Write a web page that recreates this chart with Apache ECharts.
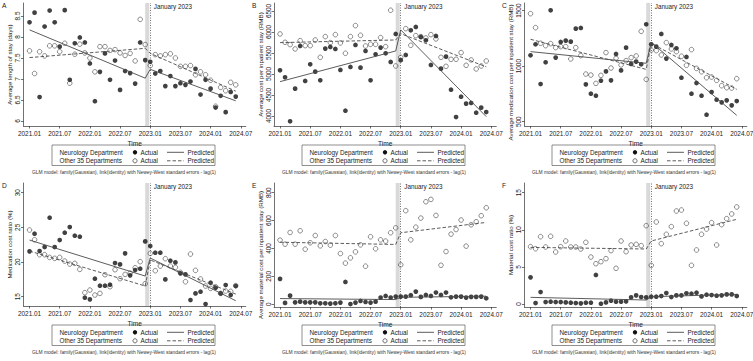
<!DOCTYPE html>
<html><head><meta charset="utf-8">
<script src="https://cdn.jsdelivr.net/npm/echarts@6/dist/echarts.min.js"></script>
<style>html,body{margin:0;padding:0;background:#fff;-webkit-user-select:none;user-select:none}#c{width:753px;height:361px}</style>
</head><body><div id="c"></div>
<script>
// ---------- data ----------
const months = ['2021.01','2021.02','2021.03','2021.04','2021.05','2021.06','2021.07','2021.08','2021.09','2021.10','2021.11','2021.12',
  '2022.01','2022.02','2022.03','2022.04','2022.05','2022.06','2022.07','2022.08','2022.09','2022.10','2022.11','2022.12',
  '2023.01','2023.02','2023.03','2023.04','2023.05','2023.06','2023.07','2023.08','2023.09','2023.10','2023.11','2023.12',
  '2024.01','2024.02','2024.03','2024.04','2024.05','2024.06'];
const xTickLabels = ['2021.01','2021.07','2022.01','2022.07','2023.01','2023.07','2024.01','2024.07'];
const xTickPos = [0,6,12,18,24,30,36,42];
const interventionMonth = 24;          // January 2023
const transitionBand = [23, 23.8];     // shaded washout month
const predMonths = [0, 23, 24, 41];    // segment ends of fitted lines

// A: average length of stay (days)
const losNeuro = [8.35,8.58,6.57,8.25,8.63,8.35,7.77,8.64,6.98,7.85,7.99,7.87,7.37,6.47,7.17,7.61,6.98,7.44,6.74,7.19,7.14,6.89,7.87,7.45,
  7.41,7.13,7.19,6.83,7.07,6.83,6.90,6.86,6.94,7.24,6.63,6.98,6.77,6.32,6.60,6.21,6.69,6.58];
const losOther = [7.67,7.13,7.65,7.55,7.79,7.79,7.65,7.85,6.90,7.59,7.83,7.62,7.50,7.17,7.77,7.77,7.68,7.70,7.62,7.56,7.61,7.43,8.42,7.82,
  7.32,7.58,7.55,7.58,7.60,7.50,7.30,7.30,7.32,7.10,7.17,7.10,6.97,6.35,6.80,6.72,6.92,6.86];
const losPredNeuro = [8.17,7.02,7.23,6.48];
const losPredOther = [7.51,7.73,7.61,6.71];
const losTicks = [6,6.5,7,7.5,8,8.5];

// B: average cost per inpatient stay (RMB)
const costNeuro = [5088,4921,3873,4651,5667,4834,5231,5056,4850,5604,5644,5596,5096,4127,5167,5691,5151,5548,4850,5469,5628,5493,5286,5953,
  5330,5453,6040,6120,5882,5802,5215,5906,5127,5413,4627,3976,4460,4294,4310,4079,4199,4095];
const costOther = [5953,5755,5699,5596,5794,5675,5675,5810,5397,5890,5747,5937,5739,5493,5890,6152,5921,5667,5707,5707,5866,5651,6517,5191,
  5397,6080,5683,5913,5890,5858,5937,5834,5397,5183,5350,5350,5509,5207,5334,5120,5191,5310];
const costPredNeuro = [4818,5548,6050,3985];
const costPredOther = [5747,5810,5960,5170];
const costTicks = [4000,4500,5000,5500,6000,6500];

// C: average medication cost per inpatient stay (RMB)
const medNeuro = [1098,1197,839,1035,1503,1077,1218,1230,1221,1338,1344,836,752,734,869,953,872,1110,962,1167,1020,1041,1017,1377,
  1197,1176,1290,1068,1191,1161,896,1083,752,848,734,563,767,698,674,692,647,686];
const medOther = [1473,1347,1206,1185,1203,1167,1176,1176,1065,1167,1095,929,920,845,917,1122,983,1071,1011,1050,1077,1092,1314,881,
  1146,1140,1101,1212,1155,1131,1089,1008,1149,980,950,896,902,872,824,806,803,887];
const medPredNeuro = [1131,1026,1215,557];
const medPredOther = [1242,971,1206,791];
const medTicks = [500,1000,1500];

// D: medication cost ratio (%)
const medRatioNeuro = [21.54,24.09,21.59,22.16,26.39,22.16,23.17,24.23,25.05,23.80,23.65,14.86,14.62,17.60,16.59,16.59,16.73,19.86,19.66,21.25,18.08,18.85,19.04,22.98,
  22.31,21.35,21.35,17.50,20.19,19.95,18.37,18.22,14.52,15.48,15.72,13.94,17.02,16.30,15.48,16.68,15.24,16.54];
const medRatioOther = [24.62,23.22,21.06,21.06,20.67,20.53,20.67,20.14,19.71,19.81,18.94,15.58,15.96,15.24,15.48,18.17,16.44,18.89,17.60,18.22,18.40,19.18,20.05,16.88,
  21.25,18.75,19.42,20.48,19.42,19.23,18.51,17.16,21.15,18.80,17.55,16.54,16.20,16.44,15.48,15.82,15.77,16.60];
const medRatioPredNeuro = [23.17,17.98,20.58,14.42];
const medRatioPredOther = [21.59,16.54,20.30,15.38];
const medRatioTicks = [15,20,25,30];

// E: average material cost per inpatient stay (RMB)
const matNeuro = [182,10,62,14,19,14,14,14,7,7,5,7,12,160,2,12,24,17,12,19,48,60,48,55,
  55,55,65,91,53,67,60,84,67,84,50,55,55,48,53,53,55,43];
const matOther = [460,431,515,431,527,395,441,493,419,450,424,493,364,295,333,376,426,273,484,398,462,453,513,548,
  283,671,462,553,618,735,752,637,280,378,503,536,604,417,570,592,635,692];
const matPredNeuro = [41,34,50,58];
const matPredOther = [445,429,513,587];
const matTicks = [0,200,400,600,800];

// F: material cost ratio (%)
const matRatioNeuro = [3.59,0.13,1.62,0.27,0.31,0.27,0.27,0.22,0.18,0.13,0.09,0.18,0.18,3.91,0.04,0.22,0.45,0.31,0.31,0.36,0.90,1.17,0.94,0.90,
  0.99,0.99,1.08,1.48,0.94,1.17,1.17,1.44,1.39,1.53,1.03,1.26,1.21,1.12,1.17,1.30,1.30,1.08];
const matRatioOther = [7.72,7.45,9.07,7.68,9.12,7.01,7.72,8.49,7.68,7.68,7.41,8.31,6.33,5.43,5.70,6.11,7.19,4.81,8.49,7.05,7.95,8.04,7.86,10.55,
  5.21,11.05,8.13,9.39,10.42,12.53,12.66,10.87,5.21,7.28,9.39,10.10,10.96,7.95,10.69,11.50,12.13,13.07];
const matRatioPredNeuro = [0.90,0.54,0.99,1.30];
const matRatioPredOther = [7.63,7.41,8.49,11.41];
const matRatioTicks = [0,5,10,15];

const groupNames = ['Neurology Department','Other 35 Departments'];
const noteText = 'GLM model: family(Gaussian), link(identity) with Newey-West standard errors - lag(1)';
const eventText = 'January 2023';

// ---------- layout ----------
const FONT = '"Liberation Sans", Arial, sans-serif';
const TXT = '#222';
const panels = [
  {letter:'A', ox:0,   oy:0,   gl:23.5, h:123, yMin:5.88,  yMax:8.81, ticks:losTicks, name:'Average length of stay (days)', pad:0,
   n:losNeuro, o:losOther, pn:losPredNeuro, po:losPredOther},
  {letter:'B', ox:250, oy:0,   gl:24,   h:123, yMin:3762,  yMax:6690, ticks:costTicks, name:'Average cost per inpatient stay (RMB)', pad:0,
   n:costNeuro, o:costOther, pn:costPredNeuro, po:costPredOther},
  {letter:'C', ox:500, oy:0,   gl:24.5, h:123, yMin:461,   yMax:1569, ticks:medTicks, name:'Average medication cost per inpatient stay (RMB)', pad:16,
   n:medNeuro, o:medOther, pn:medPredNeuro, po:medPredOther},
  {letter:'D', ox:0,   oy:180, gl:23.5, h:123, yMin:13.66, yMax:31.4, ticks:medRatioTicks, name:'Medication cost ratio (%)', pad:0,
   n:medRatioNeuro, o:medRatioOther, pn:medRatioPredNeuro, po:medRatioPredOther},
  {letter:'E', ox:250, oy:180, gl:24,   h:124, yMin:-19.4, yMax:869.5, ticks:matTicks, name:'Average material cost per inpatient stay (RMB)', pad:20,
   n:matNeuro, o:matOther, pn:matPredNeuro, po:matPredOther},
  {letter:'F', ox:500, oy:180, gl:24.5, h:124, yMin:-0.4,  yMax:16.3, ticks:matRatioTicks, name:'Material cost ratio (%)', pad:0,
   n:matRatioNeuro, o:matRatioOther, pn:matRatioPredNeuro, po:matRatioPredOther}
];
const XMIN = -1.2, XMAX = 43, GW = 222.3;

const chart = echarts.init(document.getElementById('c'), null, {renderer:'svg', width:753, height:361});
const axisLineStyle = {color:'#333', width:0.7};

const option = {
  animation:false,
  backgroundColor:'#fff',
  grid: panels.map(p => ({left:p.ox+p.gl, top:p.oy+3, width:GW, height:p.h, containLabel:false, outerBoundsMode:'none'})),
  xAxis: panels.map((p,i) => ({
    gridIndex:i, type:'value', min:XMIN, max:XMAX, silent:true,
    axisLine:{show:true, onZero:false, lineStyle:axisLineStyle},
    axisTick:{show:true, length:2.5, customValues:xTickPos, lineStyle:axisLineStyle},
    axisLabel:{customValues:xTickPos, formatter:v => xTickLabels[xTickPos.indexOf(v)], fontSize:6.4, margin:4.5, color:TXT, fontFamily:FONT},
    splitLine:{show:false},
    name:'Time', nameLocation:'middle', nameGap:13.5,
    nameTextStyle:{fontSize:6.6, color:TXT, fontFamily:FONT}
  })),
  yAxis: panels.map((p,i) => ({
    gridIndex:i, type:'value', min:p.yMin, max:p.yMax, silent:true,
    axisLine:{show:true, onZero:false, lineStyle:axisLineStyle},
    axisTick:{show:true, length:2.5, customValues:p.ticks, lineStyle:axisLineStyle},
    axisLabel:{customValues:p.ticks, rotate:90, formatter:v => String(v), fontSize:6.4, margin:3, color:TXT, fontFamily:FONT},
    splitLine:{show:false},
    name:p.name, nameLocation:'middle', nameGap:11,
    nameTextStyle:{fontSize:6.2, color:TXT, fontFamily:FONT, padding:[0,p.pad,0,0]}
  })),
  series: []
};

panels.forEach((p,i) => {
  option.series.push({
    type:'scatter', name:groupNames[0], xAxisIndex:i, yAxisIndex:i,
    data:p.n.map((v,k) => [k, v]), symbol:'circle', symbolSize:4.7,
    itemStyle:{color:'#111'}, z:3, silent:true,
    markArea:{silent:true, itemStyle:{color:'#d9d9d9', opacity:1}, data:[[{xAxis:transitionBand[0]},{xAxis:transitionBand[1]}]]},
    markLine:{silent:true, symbol:'none', label:{show:false}, emphasis:{disabled:true},
      lineStyle:{type:[1,1.5], color:'#333', width:0.7, opacity:1}, data:[{xAxis:interventionMonth}]}
  });
  option.series.push({
    type:'scatter', name:groupNames[1], xAxisIndex:i, yAxisIndex:i,
    data:p.o.map((v,k) => [k, v]), symbol:'circle', symbolSize:4.6,
    itemStyle:{color:'rgba(255,255,255,0)', borderColor:'#333', borderWidth:0.7}, z:3, silent:true
  });
  option.series.push({
    type:'line', xAxisIndex:i, yAxisIndex:i, data:predMonths.map((m,k) => [m, p.pn[k]]),
    symbol:'none', lineStyle:{color:'#4a4a4a', width:0.9}, z:4, silent:true
  });
  option.series.push({
    type:'line', xAxisIndex:i, yAxisIndex:i, data:predMonths.map((m,k) => [m, p.po[k]]),
    symbol:'none', lineStyle:{color:'#4a4a4a', width:0.9, type:[3.5,2]}, z:4, silent:true
  });
});

chart.setOption(option);

// ---------- annotations (legend boxes, notes, letters, event label) ----------
const graphics = [];
panels.forEach((p,i) => {
  const ev = chart.convertToPixel({gridIndex:i}, [interventionMonth, p.yMax]);
  const gx = p.ox, gy = p.oy;
  const t = (x,y,s,extra) => ({type:'text', silent:true, x:gx+x, y:gy+y, style:Object.assign({text:s, fill:TXT, font:'6.3px '+FONT, textVerticalAlign:'middle'}, extra||{})});
  graphics.push(t(2, 5, p.letter, {font:'6.6px '+FONT}));
  graphics.push({type:'text', silent:true, x:ev[0]+3.5, y:gy+6.5, style:{text:eventText, fill:TXT, font:'6.3px '+FONT, textVerticalAlign:'middle'}});
  graphics.push({type:'rect', silent:true, shape:{x:gx+52, y:gy+145, width:163, height:20.5}, style:{fill:'#fff', stroke:'#444', lineWidth:0.6}});
  graphics.push(t(59.5, 152.3, groupNames[0]));
  graphics.push(t(59.5, 160.8, groupNames[1]));
  graphics.push({type:'circle', silent:true, shape:{cx:gx+135, cy:gy+152.3, r:2.2}, style:{fill:'#111'}});
  graphics.push({type:'circle', silent:true, shape:{cx:gx+135, cy:gy+160.8, r:2.1}, style:{fill:'none', stroke:'#333', lineWidth:0.7}});
  graphics.push(t(140.5, 152.3, 'Actual'));
  graphics.push(t(140.5, 160.8, 'Actual'));
  graphics.push({type:'line', silent:true, shape:{x1:gx+167, y1:gy+152.3, x2:gx+184, y2:gy+152.3}, style:{stroke:'#4a4a4a', lineWidth:0.9}});
  graphics.push({type:'line', silent:true, shape:{x1:gx+167, y1:gy+160.8, x2:gx+184, y2:gy+160.8}, style:{stroke:'#4a4a4a', lineWidth:0.9, lineDash:[3.5,2]}});
  graphics.push(t(187.5, 152.3, 'Predicted'));
  graphics.push(t(187.5, 160.8, 'Predicted'));
  graphics.push({type:'text', silent:true, x:gx+124, y:gy+172, style:{text:noteText, fill:'#333', font:'4.9px '+FONT, textAlign:'center', textVerticalAlign:'middle'}});
});
chart.setOption({graphic:graphics});
</script></body></html>
